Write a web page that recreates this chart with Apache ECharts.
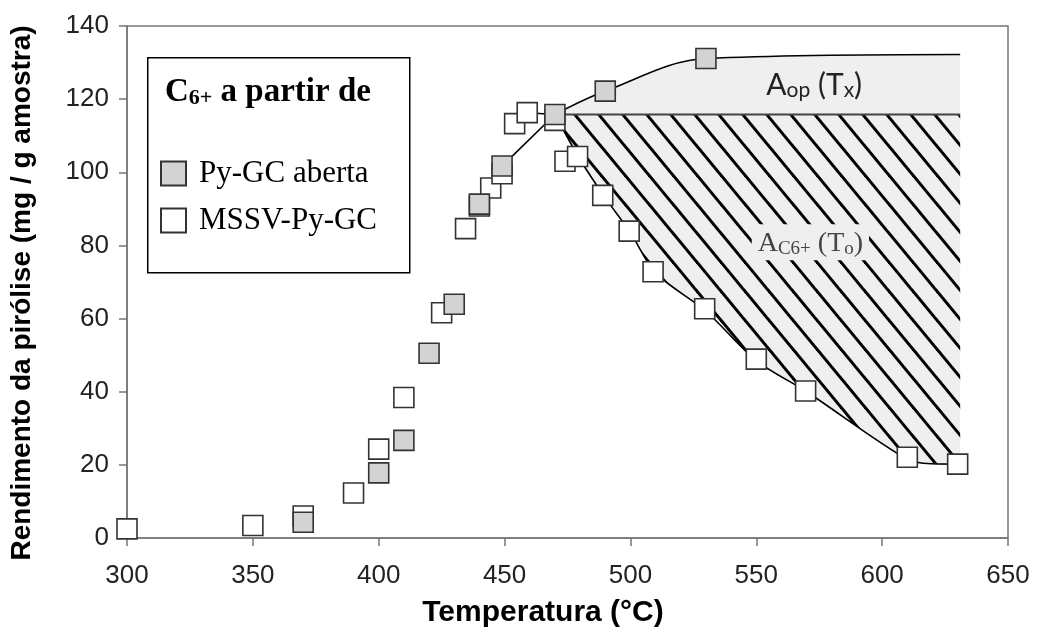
<!DOCTYPE html>
<html>
<head>
<meta charset="utf-8">
<script src="https://cdn.jsdelivr.net/npm/echarts@6/dist/echarts.min.js"></script>
<style>
  html, body { margin: 0; padding: 0; background: #fff; }
  #chart { width: 1037px; height: 639px; }
</style>
</head>
<body>
<div id="chart"></div>
<script>
// Py-GC aberta (filled squares)
var tempAberta = [370, 400, 410, 420, 430, 440, 449, 470, 490, 530];
var yieldAberta = [4.3, 17.8, 26.7, 50.5, 63.9, 91.3, 101.7, 115.8, 122.2, 131.1];

// MSSV-Py-GC (open squares)
var tempMssv = [300, 350, 370, 390, 400, 410, 425, 434.5, 440, 444.5, 449, 454, 459, 470, 474, 479, 489, 499.5, 509, 529.5, 550, 569.6, 610, 630];
var yieldMssv = [2.5, 3.4, 6.0, 12.3, 24.3, 38.4, 61.6, 84.6, 90.8, 95.7, 99.6, 113.3, 116.3, 114.2, 103, 104.3, 93.7, 83.9, 72.8, 62.7, 48.9, 40.2, 22.1, 20.2];

// fitted curves
var upperT = [470, 490, 530, 631];
var upperY = [115.8, 122.2, 131.1, 132.2];
var lowerT = [470, 480, 490, 500, 510, 530, 550, 570, 610, 620, 631];
var lowerY = [115.8, 103.5, 93, 83.5, 72.5, 62, 48.5, 40, 21.5, 20.3, 20.2];
var riseT = [449, 470];
var riseY = [101.7, 115.8];
var linkT = [459, 470];
var linkY = [116.3, 115.8];
var baseT = [470, 631];
var baseY = [115.8, 115.8];

var xTicks = [300, 650, 50];
var yTicks = [0, 140, 20];

function pairs(xs, ys) {
  return xs.map(function (x, i) { return [x, ys[i]]; });
}

// diagonal hatch tile for the A_C6+ area
function hatch() {
  var w = 24, h = 29;
  var c = document.createElement('canvas');
  c.width = w; c.height = h;
  var g = c.getContext('2d');
  g.fillStyle = '#efefef';
  g.fillRect(0, 0, w, h);
  g.strokeStyle = '#000';
  g.lineWidth = 3;
  for (var k = -1; k <= 1; k++) {
    g.beginPath();
    g.moveTo(k * w - w, -h);
    g.lineTo(k * w + 2 * w, 2 * h);
    g.stroke();
  }
  return c;
}

var chart = echarts.init(document.getElementById('chart'), null, { renderer: 'canvas' });

var markerStyle = function (fill) {
  return { color: fill, borderColor: '#333', borderWidth: 1.6, opacity: 1 };
};

var option = {
  backgroundColor: '#ffffff',
  animation: false,
  grid: {
    left: 127, right: 29, top: 26, bottom: 101,
    show: true, borderColor: '#777', borderWidth: 1.5, backgroundColor: 'transparent'
  },
  xAxis: {
    type: 'value', min: xTicks[0], max: xTicks[1], interval: xTicks[2],
    axisLine: { lineStyle: { color: '#777', width: 1.5 } },
    axisTick: { length: 8, lineStyle: { color: '#777', width: 1.5 } },
    axisLabel: { fontFamily: 'Liberation Sans', fontSize: 26, color: '#222', margin: 25 },
    splitLine: { show: false }
  },
  yAxis: {
    type: 'value', min: yTicks[0], max: yTicks[1], interval: yTicks[2],
    axisLine: { show: true, lineStyle: { color: '#777', width: 1.5 } },
    axisTick: { show: true, length: 8, lineStyle: { color: '#777', width: 1.5 } },
    axisLabel: { fontFamily: 'Liberation Sans', fontSize: 26, color: '#222', margin: 18 },
    splitLine: { show: false }
  },
  legend: {
    orient: 'vertical', left: 155, top: 153, z: 10,
    itemWidth: 25, itemHeight: 24, itemGap: 16,
    textStyle: { fontFamily: 'Liberation Serif', fontSize: 31, color: '#000', padding: [0, 0, 0, 8] },
    data: ['Py-GC aberta', 'MSSV-Py-GC']
  },
  graphic: [
    {
      type: 'rect', left: 147, top: 57, z: 2,
      shape: { width: 262, height: 215 },
      style: { fill: '#fff', stroke: '#000', lineWidth: 1.5 }
    },
    {
      type: 'text', left: 165, top: 76, z: 6,
      style: {
        text: '{a|C}{b|6+}{a| a partir de}',
        rich: {
          a: { fontFamily: 'Liberation Serif', fontWeight: 'bold', fontSize: 33, lineHeight: 44, verticalAlign: 'bottom', fill: '#000' },
          b: { fontFamily: 'Liberation Serif', fontWeight: 'bold', fontSize: 22, lineHeight: 22, verticalAlign: 'bottom', fill: '#000' }
        }
      }
    },
    {
      type: 'text', x: 543, y: 613,
      style: { text: 'Temperatura (°C)', fontFamily: 'Liberation Sans', fontWeight: 'bold', fontSize: 30, fill: '#000', align: 'center', verticalAlign: 'middle' }
    },
    {
      type: 'text', x: 22, y: 293, rotation: Math.PI / 2,
      style: { text: 'Rendimento da pirólise (mg / g amostra)', fontFamily: 'Liberation Sans', fontWeight: 'bold', fontSize: 28, fill: '#000', align: 'center', verticalAlign: 'middle' }
    }
  ],
  series: [
    {
      name: 'Aop', type: 'line', data: pairs(upperT, upperY),
      smooth: 0.35, symbol: 'none', z: 1,
      lineStyle: { color: '#000', width: 1.6 },
      areaStyle: { color: '#efefef', opacity: 1, origin: 115.8 },
      markPoint: {
        symbol: 'rect', symbolSize: 1, itemStyle: { color: 'rgba(0,0,0,0)' }, silent: true,
        label: {
          show: true, position: 'inside',
          formatter: '{a|A}{s|op}{a| (T}{s|x}{a|)}',
          rich: {
            a: { fontFamily: 'Lato', fontSize: 30, lineHeight: 30, verticalAlign: 'bottom', color: '#222' },
            s: { fontFamily: 'Lato', fontSize: 21, lineHeight: 23, verticalAlign: 'bottom', color: '#222' }
          }
        },
        data: [{ coord: [573, 123.7] }]
      }
    },
    {
      name: 'C6', type: 'line', data: pairs(lowerT, lowerY),
      smooth: 0.3, symbol: 'none', z: 1,
      lineStyle: { color: '#000', width: 1.6 },
      areaStyle: { color: { image: hatch(), repeat: 'repeat' }, opacity: 1, origin: 115.8 },
      markPoint: {
        symbol: 'rect', symbolSize: 1, itemStyle: { color: 'rgba(0,0,0,0)' }, silent: true,
        label: {
          show: true, position: 'inside',
          backgroundColor: '#efefef', padding: [2, 6, 2, 6],
          formatter: '{a|A}{s|C6+}{a| (T}{s|o}{a|)}',
          rich: {
            a: { fontFamily: 'Liberation Serif', fontSize: 28, lineHeight: 32, verticalAlign: 'bottom', color: '#444' },
            s: { fontFamily: 'Liberation Serif', fontSize: 19, lineHeight: 19, verticalAlign: 'bottom', color: '#444' }
          }
        },
        data: [{ coord: [571.5, 80.9] }]
      }
    },
    {
      name: 'base', type: 'line', data: pairs(baseT, baseY), symbol: 'none', z: 1,
      lineStyle: { color: '#444', width: 2 }
    },
    {
      name: 'rise', type: 'line', data: pairs(riseT, riseY), symbol: 'none', z: 1,
      lineStyle: { color: '#000', width: 1.6 }
    },
    {
      name: 'link', type: 'line', data: pairs(linkT, linkY), symbol: 'none', z: 1,
      lineStyle: { color: '#000', width: 1.6 }
    },
    {
      name: 'MSSV-Py-GC', type: 'scatter', data: pairs(tempMssv, yieldMssv),
      symbol: 'rect', symbolSize: 20, z: 3,
      itemStyle: markerStyle('#ffffff')
    },
    {
      name: 'Py-GC aberta', type: 'scatter', data: pairs(tempAberta, yieldAberta),
      symbol: 'rect', symbolSize: 20, z: 4,
      itemStyle: markerStyle('#d3d3d3')
    }
  ]
};

chart.setOption(option);
</script>
</body>
</html>
